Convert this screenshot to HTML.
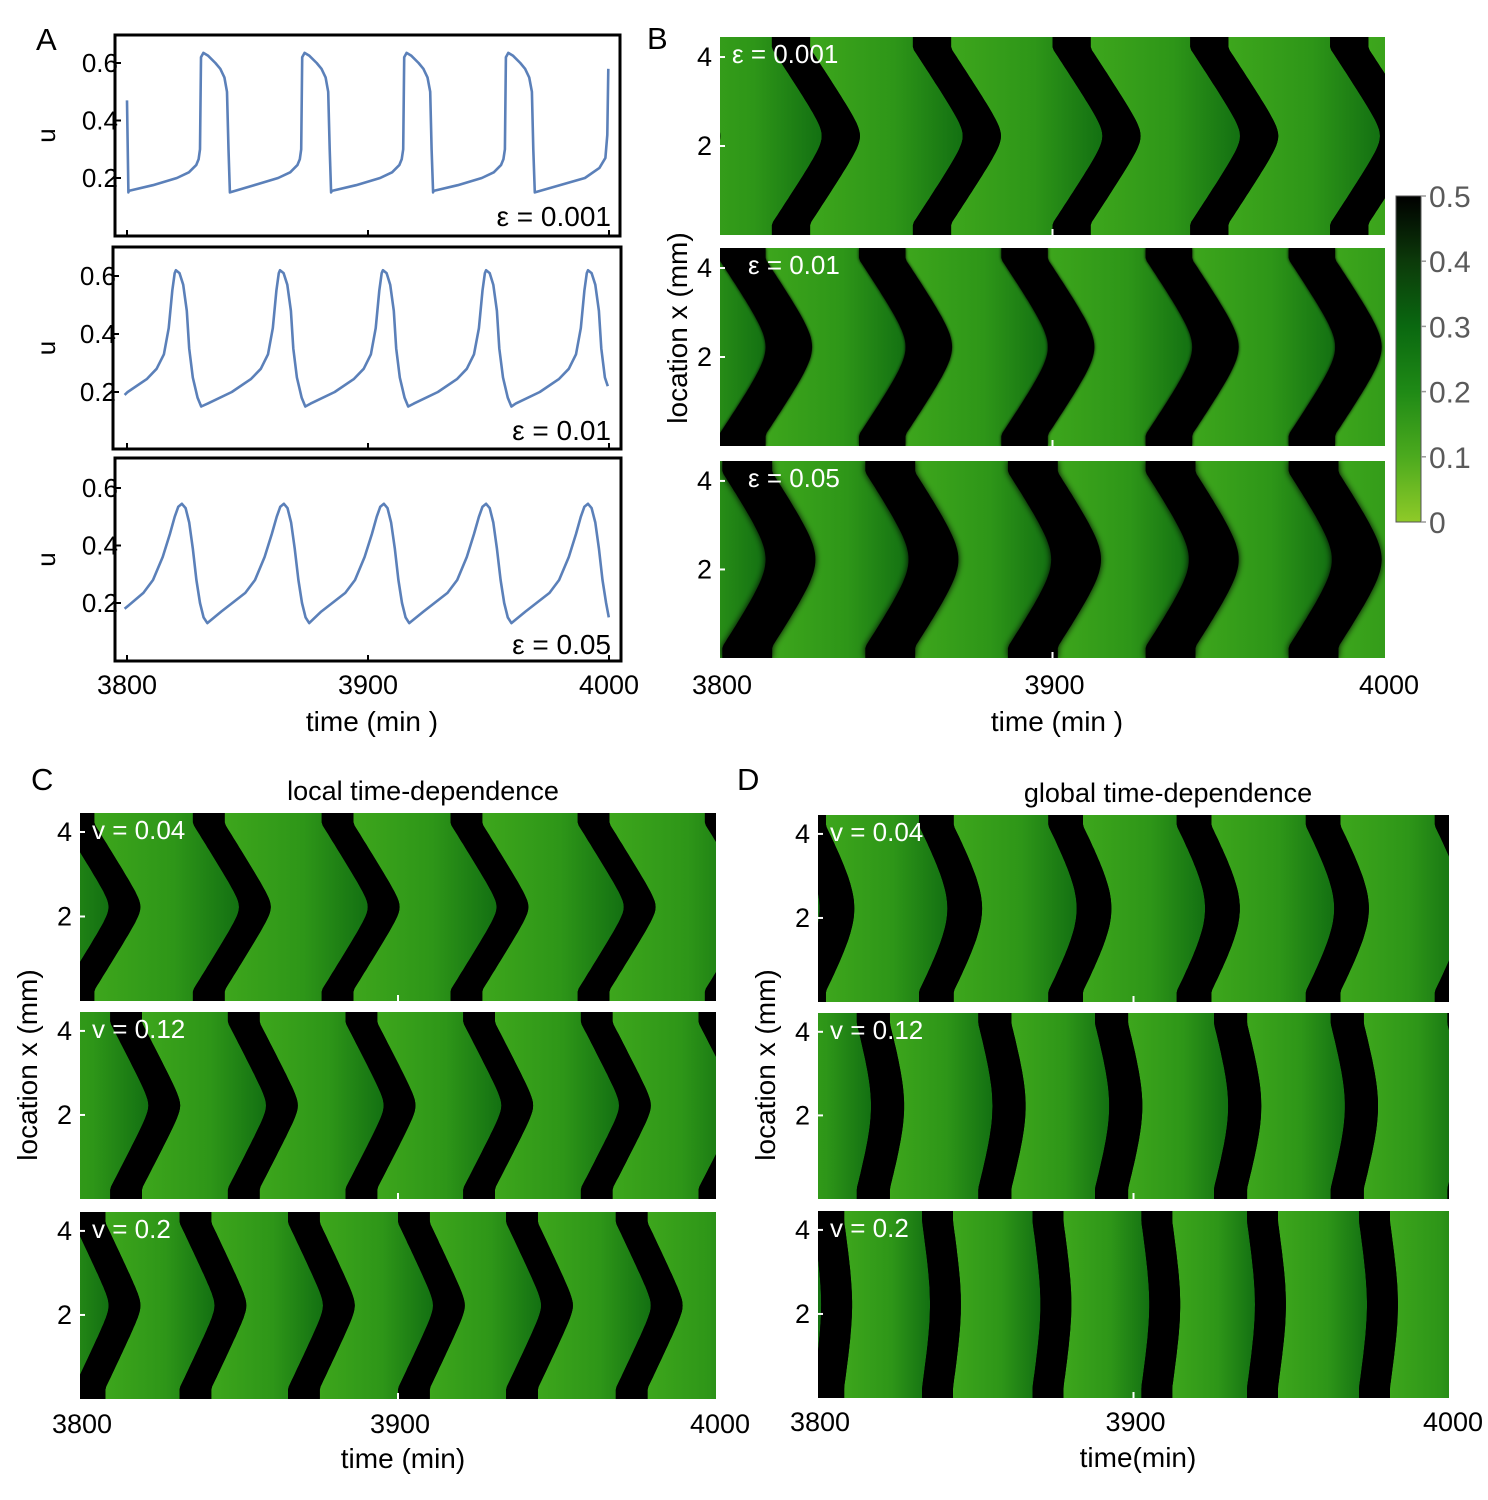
<!DOCTYPE html>
<html><head><meta charset="utf-8">
<style>
html,body{margin:0;padding:0;background:#fff;}
svg{display:block;font-family:"Liberation Sans",sans-serif;}
</style></head>
<body>
<svg id="fig" width="1488" height="1500" viewBox="0 0 1488 1500" xmlns="http://www.w3.org/2000/svg">
<defs>
<linearGradient id="gapGrad" x1="0" y1="0" x2="1" y2="0">
<stop offset="0" stop-color="#3da61c"/><stop offset="0.55" stop-color="#2e9618"/><stop offset="1" stop-color="#137012"/>
</linearGradient>
<linearGradient id="cbGrad" x1="0" y1="1" x2="0" y2="0">
<stop offset="0" stop-color="#8fca28"/><stop offset="0.2" stop-color="#4caa1e"/><stop offset="0.4" stop-color="#1f8a16"/><stop offset="0.6" stop-color="#0a6810"/><stop offset="0.8" stop-color="#0c3a0a"/><stop offset="1" stop-color="#000"/>
</linearGradient>
<filter id="blur3" x="-20%" y="-5%" width="140%" height="110%"><feGaussianBlur stdDeviation="3.5"/></filter>
<filter id="blur1" x="-20%" y="-5%" width="140%" height="110%"><feGaussianBlur stdDeviation="1.5"/></filter>
</defs>
<g id="layer"></g>
<g font-size="27" fill="#000">
<text x="36" y="50" font-size="31">A</text>
<text x="647" y="49" font-size="31">B</text>
<text x="31" y="790" font-size="31">C</text>
<text x="737" y="790" font-size="31">D</text>
<text x="423" y="800" text-anchor="middle" font-size="27">local time-dependence</text>
<text x="1168" y="802" text-anchor="middle" font-size="27">global time-dependence</text>
</g>
</svg>
<script>
// ---- Panel A time series data ----
const a1JumpTimes = [3830.7, 3872.7, 3915.0, 3957.2];
const a1ShapeDt = [-30, -20, -10, -5, -2, -1, -0.4, 0, 1, 3, 6, 8, 9.7, 10.8, 11.4, 12];
const a1ShapeU = [0.155, 0.175, 0.2, 0.22, 0.245, 0.265, 0.3, 0.62, 0.635, 0.625, 0.6, 0.58, 0.55, 0.5, 0.3, 0.15];
const a1Start = [[3800, 0.47], [3800.6, 0.15]];
const a1End = [[3990, 0.2], [3996, 0.235], [3998.5, 0.27], [3999.3, 0.35], [3999.7, 0.58]];

const a2PeakTimes = [3820.3, 3863.5, 3906.2, 3949.0, 3991.3];
const a2ShapeDt = [-30, -20, -12, -8, -5, -3, -1.5, -0.5, 0, 1.5, 3, 4.5, 5.5, 7, 9, 10.5];
const a2ShapeU = [0.16, 0.2, 0.245, 0.28, 0.33, 0.42, 0.55, 0.61, 0.62, 0.61, 0.57, 0.48, 0.35, 0.25, 0.18, 0.15];
const a2Start = [[3799, 0.19]];
const a2End = [[3999.5, 0.22]];

const a3PeakTimes = [3822.8, 3865.1, 3906.6, 3949.0, 3991.3];
const a3ShapeDt = [-26, -16, -12, -8, -5, -3, -1.5, 0, 1.5, 3, 4.5, 6, 7.5, 9, 10.5];
const a3ShapeU = [0.17, 0.235, 0.28, 0.36, 0.44, 0.5, 0.535, 0.545, 0.53, 0.48, 0.39, 0.28, 0.2, 0.15, 0.13];
const a3Start = [[3799, 0.18]];
const a3End = [[3999.9, 0.15]];

const timeTicks = [3800, 3900, 4000];
const uTicks = [0.2, 0.4, 0.6];
const locTicks = [2, 4];
const cbTicks = [0, 0.1, 0.2, 0.3, 0.4, 0.5];

// ---- Heatmap band data (leading-edge time at mid-location, min) ----
const b1Apex = [3788.6, 3830.6, 3873.0, 3915.0, 3956.4, 3998.5];
const b2Apex = [3771.5, 3813.7, 3855.8, 3898.6, 3942.0, 3985.0];
const b3Apex = [3771.0, 3813.7, 3856.7, 3899.6, 3941.0, 3984.0];
const c1Apex = [3768.5, 3809.0, 3850.0, 3890.5, 3931.0, 3971.0];
const c2Apex = [3784.5, 3821.5, 3858.5, 3895.5, 3932.5, 3969.5];
const c3Apex = [3775.0, 3809.0, 3842.3, 3876.4, 3911.0, 3945.0, 3979.5];
const d1Apex = [3759.7, 3800.5, 3841.0, 3882.0, 3922.7, 3963.6];
const d2Apex = [3779.0, 3816.8, 3855.3, 3892.3, 3930.0, 3967.0];
const d3Apex = [3766.5, 3801.0, 3835.5, 3870.5, 3905.0, 3938.5, 3974.0];
const bandAmp = {b1:15, b2:14, b3:13, c1:14.5, c2:12, c3:11, d1:9, d2:4.5, d3:2.5};
const bandWidth = {b1:11.5, b2:14, b3:15, c1:10, c2:10, c3:10, d1:11, d2:10.5, d3:9.8};

const NS = "http://www.w3.org/2000/svg";
const layer = document.getElementById('layer');
function mk(tag, attrs, parent) {
  const e = document.createElementNS(NS, tag);
  for (const k in attrs) e.setAttribute(k, attrs[k]);
  (parent || layer).appendChild(e);
  return e;
}
function txt(x, y, s, size, anchor, fill, parent, extra) {
  const t = mk('text', Object.assign({x:x, y:y, 'font-size':size, 'text-anchor':anchor||'start', fill:fill||'#000'}, extra||{}), parent);
  t.textContent = s;
  return t;
}

// ---------- Panel A ----------
function buildSeries(start, centers, dts, us, end) {
  const pts = start.slice();
  centers.forEach(c => {
    for (let i = 0; i < dts.length; i++) {
      const t = c + dts[i];
      if (t < end[0][0] - 0.01 && t > pts[pts.length-1][0]) pts.push([t, us[i]]);
    }
  });
  end.forEach(p => { if (p[0] > pts[pts.length-1][0]) pts.push(p); });
  return pts;
}
const aPanels = [
  {name:'a1', box:[115,35,620,236], y02:178, scale:287.5, pts: buildSeries(a1Start, a1JumpTimes, a1ShapeDt, a1ShapeU, a1End), eps:'ε = 0.001', epsY:226},
  {name:'a2', box:[113,247,621,449], y02:392, scale:290, pts: buildSeries(a2Start, a2PeakTimes, a2ShapeDt, a2ShapeU, a2End), eps:'ε = 0.01', epsY:440},
  {name:'a3', box:[115,458,621,661], y02:603, scale:287.5, pts: buildSeries(a3Start, a3PeakTimes, a3ShapeDt, a3ShapeU, a3End), eps:'ε = 0.05', epsY:654}
];
const aX = t => 127 + (t - 3800) * 2.41;
aPanels.forEach(p => {
  const g = mk('g', {});
  
  
  const yU = u => p.y02 - (u - 0.2) * p.scale;
  const [x0,y0,x1,y1] = p.box;
  const d = p.pts.map((q,i) => (i?'L':'M') + aX(q[0]).toFixed(1) + ',' + yU(q[1]).toFixed(1)).join('');
  const line = mk('path', {d:d, fill:'none', stroke:'#5b80b9', 'stroke-width':2.6, 'stroke-linejoin':'round'}, g);
  
  
  const fr = mk('rect', {x:x0, y:y0, width:x1-x0, height:y1-y0, fill:'none', stroke:'#000', 'stroke-width':3}, g);
  
  
  uTicks.forEach(u => {
    mk('line', {x1:x0, x2:x0+6, y1:yU(u), y2:yU(u), stroke:'#000', 'stroke-width':2}, g);
    const tl = txt(x0+3, yU(u)+9, u.toFixed(1), 26, 'end', '#000', g);
    
    
  });
  timeTicks.forEach(t => {
    mk('line', {x1:aX(t), x2:aX(t), y1:y1, y2:y1-6, stroke:'#000', 'stroke-width':2}, g);
  });
  const ul = txt(0, 0, 'u', 26, 'middle', '#000', g, {transform:'translate(55,' + ((y0+y1)/2) + ') rotate(-90)'});
  
  
  const el = txt(611, p.epsY, p.eps, 28, 'end', '#000', g);
  
  
});
timeTicks.forEach(t => {
  const l = txt(aX(t), 694, String(t), 27, 'middle');
  
  
});
{ const l = txt(372, 731, 'time (min )', 28, 'middle');
  
   }

// ---------- Heatmaps ----------
let clipId = 0;
function heatmap(name, box, apexIn, amp, w, r, blur, label) {
  const [x0,y0,x1,y1] = box;
  const H = y1 - y0;
  const n = apexIn.length;
  const apex = apexIn.concat([apexIn[n-1] + (apexIn[n-1] - apexIn[n-2]), apexIn[n-1] + 2 * (apexIn[n-1] - apexIn[n-2])]);
  const xT = t => x0 + (t - 3800) * (x1 - x0) / 200;
  const yL = loc => y1 - loc * H / 4.45;
  const g = mk('g', {});
  
  
  const cid = 'clip' + (clipId++);
  const cp = mk('clipPath', {id:cid}, g);
  mk('rect', {x:x0, y:y0, width:x1-x0, height:H}, cp);
  const inner = mk('g', {'clip-path':'url(#' + cid + ')'}, g);
  mk('rect', {x:x0, y:y0, width:x1-x0, height:H, fill:'#000'}, inner);
  const N = 60;
  const locs = [];
  for (let i = 0; i <= N; i++) locs.push(4.45 * i / N);
  const shape = loc => {
    let d = (loc - 2.225) / 2.225;
    d = Math.max(-1, Math.min(1, d * 1.13));
    const s = (Math.sqrt(d*d + r*r) - r) / (Math.sqrt(1 + r*r) - r);
    return 1 - s;
  };
  const lead = (a, loc) => a - amp * (1 - shape(loc));
  for (let b = 0; b < apex.length - 1; b++) {
    const left = locs.map(l => [xT(lead(apex[b], l) + w), yL(l)]);
    const right = locs.map(l => [xT(lead(apex[b+1], l)), yL(l)]).reverse();
    const pts = left.concat(right).map(p => p[0].toFixed(1) + ',' + p[1].toFixed(1)).join(' ');
    const gp = mk('polygon', {points:pts, fill:'url(#gapGrad)'}, inner);
    
    
  }
  const bg = mk('g', blur ? {filter:'url(#' + blur + ')'} : {}, inner);
  apex.forEach(a => {
    const left = locs.map(l => [xT(lead(a, l)), yL(l)]);
    const right = locs.map(l => [xT(lead(a, l) + w), yL(l)]).reverse();
    const pts = left.concat(right).map(p => p[0].toFixed(1) + ',' + p[1].toFixed(1)).join(' ');
    const bp = mk('polygon', {points:pts, fill:'#000'}, bg);
    
    
  });
  locTicks.forEach(l => {
    mk('line', {x1:x0, x2:x0+5, y1:yL(l), y2:yL(l), stroke:'#fff', 'stroke-width':2}, g);
    const tl = txt(x0-8, yL(l)+9, String(l), 27, 'end', '#000', g);
    
    
  });
  mk('line', {x1:xT(3900), x2:xT(3900), y1:y1, y2:y1-6, stroke:'#fff', 'stroke-width':2}, g);
  const lt = txt(x0 + label[1], y0 + 26, label[0], 26, 'start', '#fff', g);
  
  
  return xT;
}
heatmap('b1', [720,37,1385,235], b1Apex, bandAmp.b1, bandWidth.b1, 0.15, null, ['ε = 0.001', 12]);
heatmap('b2', [720,248,1385,446], b2Apex, bandAmp.b2, bandWidth.b2, 0.25, 'blur1', ['ε = 0.01', 28]);
const xB = heatmap('b3', [720,461,1385,658], b3Apex, bandAmp.b3, bandWidth.b3, 0.3, 'blur3', ['ε = 0.05', 28]);
heatmap('c1', [80,813,716,1001], c1Apex, bandAmp.c1, bandWidth.c1, 0.12, null, ['v = 0.04', 12]);
heatmap('c2', [80,1012,716,1199], c2Apex, bandAmp.c2, bandWidth.c2, 0.12, null, ['v = 0.12', 12]);
const xC = heatmap('c3', [80,1212,716,1399], c3Apex, bandAmp.c3, bandWidth.c3, 0.12, null, ['v = 0.2', 12]);
heatmap('d1', [818,815,1449,1002], d1Apex, bandAmp.d1, bandWidth.d1, 0.45, null, ['v = 0.04', 12]);
heatmap('d2', [818,1013,1449,1199], d2Apex, bandAmp.d2, bandWidth.d2, 0.5, null, ['v = 0.12', 12]);
const xD = heatmap('d3', [818,1211,1449,1398], d3Apex, bandAmp.d3, bandWidth.d3, 0.5, null, ['v = 0.2', 12]);

function axisLabels(xT, yBase, titleX, titleY, title, locX, locY) {
  timeTicks.forEach(t => {
    const l = txt(xT(t) + (t===4000?4:2), yBase, String(t), 27, 'middle');
    
    
  });
  const tt = txt(titleX, titleY, title, 28, 'middle');
  
  
  const yl = txt(0, 0, 'location x (mm)', 28, 'middle', '#000', null, {transform:'translate(' + locX + ',' + locY + ') rotate(-90)'});
  
  
}
axisLabels(xB, 694, 1057, 731, 'time (min )', 687, 328);
axisLabels(xC, 1433, 403, 1468, 'time (min)', 37, 1065);
axisLabels(xD, 1431, 1138, 1467, 'time(min)', 775, 1065);

// ---------- Colorbar ----------
{
  const g = mk('g', {});
  
  
  const cy0 = 196, cy1 = 522;
  mk('rect', {x:1396, y:cy0, width:25, height:cy1-cy0, fill:'url(#cbGrad)', stroke:'#555', 'stroke-width':1}, g);
  cbTicks.forEach(v => {
    const y = cy1 - v / 0.5 * (cy1 - cy0);
    mk('line', {x1:1421, x2:1426, y1:y, y2:y, stroke:'#999', 'stroke-width':1.5}, g);
    const l = txt(1429, y + 11, String(v), 30, 'start', '#5a5a5a', g);
    
    
  });
}
</script>
</body></html>
